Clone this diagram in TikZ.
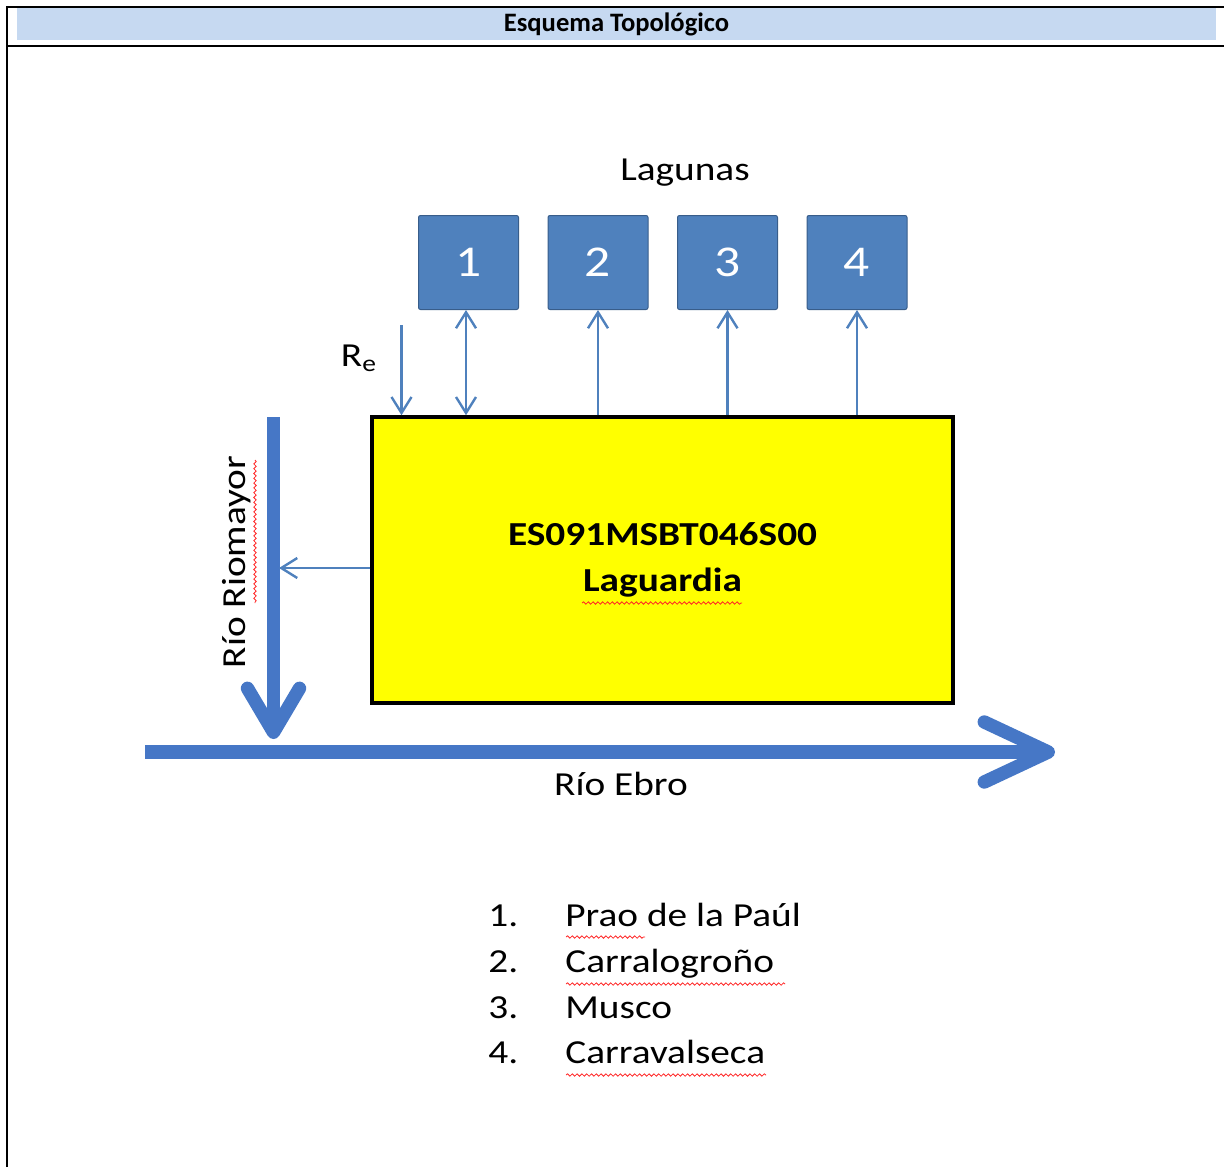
\documentclass[tikz,border=0pt]{standalone}
\usepackage{fontspec}
\setmainfont{Carlito}
\newfontfamily\stretched[FakeStretch=1.17]{Carlito}
\usetikzlibrary{positioning, arrows.meta, decorations.pathmorphing}

\definecolor{headblue}{HTML}{C6D9F1}
\definecolor{lagfill}{HTML}{4F81BD}
\definecolor{lagline}{HTML}{385D8A}
\definecolor{riverblue}{HTML}{4677C6}
\definecolor{acuyellow}{RGB}{255,255,0}

\begin{document}
\begin{tikzpicture}[x=0.5pt, y=-0.5pt, node distance=64.75pt,
	lag/.style = {draw=lagline, line width=0.5pt, fill=lagfill, text=white, rounded corners=1pt, minimum width=50pt, minimum height=47pt, inner sep=0pt, font=\stretched\fontsize{22}{25}\selectfont},
	txt/.style = {inner sep=0pt, font=\stretched\fontsize{16.8}{22.85}\selectfont},
	flow/.style = {draw=lagfill, line width=1.2pt, -{Straight Barb[length=8pt, width=10pt]}},
	river/.style = {draw=riverblue, line width=6.7pt},
	spell/.style = {draw=red!85, line width=0.4pt, decorate, decoration={snake, amplitude=0.6pt, segment length=2.4pt}}]
	\useasboundingbox (0,0) rectangle (1224,1167);

	% table frame and title row
	\draw[line width=1pt] (7,1167) -- (7,6.5) -- (1224,6.5);
	\draw[line width=1pt] (7,45.5) -- (1224,45.5);
	\node[fill=headblue, minimum width=599.5pt, minimum height=16pt, inner sep=0pt, font=\fontsize{13.3}{15}\selectfont\bfseries] (title) at (616.5,24) {Esquema Topológico};

	% lagoons
	\node[txt] (lagunas) at (685,173) {Lagunas};
	\node[lag] (lag1) at (468.5,262.5) {1};
	\node[lag] (lag2) [right of=lag1] {2};
	\node[lag] (lag3) [right of=lag2] {3};
	\node[lag] (lag4) [right of=lag3] {4};

	% groundwater body
	\node[draw, line width=1.75pt, fill=acuyellow, minimum width=290.5pt, minimum height=143pt, align=center, font=\stretched\fontsize{16.8}{23}\selectfont\bfseries] (acu) at (662.5,560) {ES091MSBT046S00\\Laguardia};

	% rivers
	\coordinate (rmtop) at (273.5,417);
	\coordinate (rmend) at (273.5,739);
	\coordinate (ebstart) at (145,752);
	\coordinate (ebend) at (1055,752);
	\coordinate (rmside) at (279,568);
	\draw[river, -{Straight Barb[length=22pt, width=26pt, round]}] (rmtop) -- (rmend);
	\draw[river, -{Straight Barb[length=32pt, width=30pt, round]}] (ebstart) -- (ebend);
	\node[txt, rotate=90] (riomayor) at (237,562) {Río Riomayor};
	\node[txt] (ebro) at (621,784) {Río Ebro};

	% recharge and exchanges
	\coordinate (re) at (401.5,325);
	\node[txt] (relabel) at (359,358) {R\textsubscript{e}};
	\draw[flow] (re) -- (re |- acu.north);
	\draw[flow, {Straight Barb[length=8pt, width=10pt]}-{Straight Barb[length=8pt, width=10pt]}] (lag1.south -| 466,0) -- (acu.north -| 466,0);
	\draw[flow] (lag2.south |- acu.north) -- (lag2.south);
	\draw[flow] (lag3.south |- acu.north) -- (lag3.south);
	\draw[flow] (lag4.south |- acu.north) -- (lag4.south);
	\draw[flow] (acu.west |- 0,568) -- (rmside);

	% list of lagoons
	\node[txt, anchor=base west] (lista) at (488,926.7) {\begin{tabular}[t]{@{}p{38.5pt}@{}l@{}}
		1. & Prao de la Paúl\\
		2. & Carralogroño\\
		3. & Musco\\
		4. & Carravalseca
	\end{tabular}};

	% spell-check marks
	\draw[spell] (582,603) -- (742,603);
	\draw[spell] (255,460) -- (255,603);
	\draw[spell] (566,937) -- (645,937);
	\draw[spell] (566,984) -- (785,984);
	\draw[spell] (566,1075) -- (766,1075);
\end{tikzpicture}
\end{document}
